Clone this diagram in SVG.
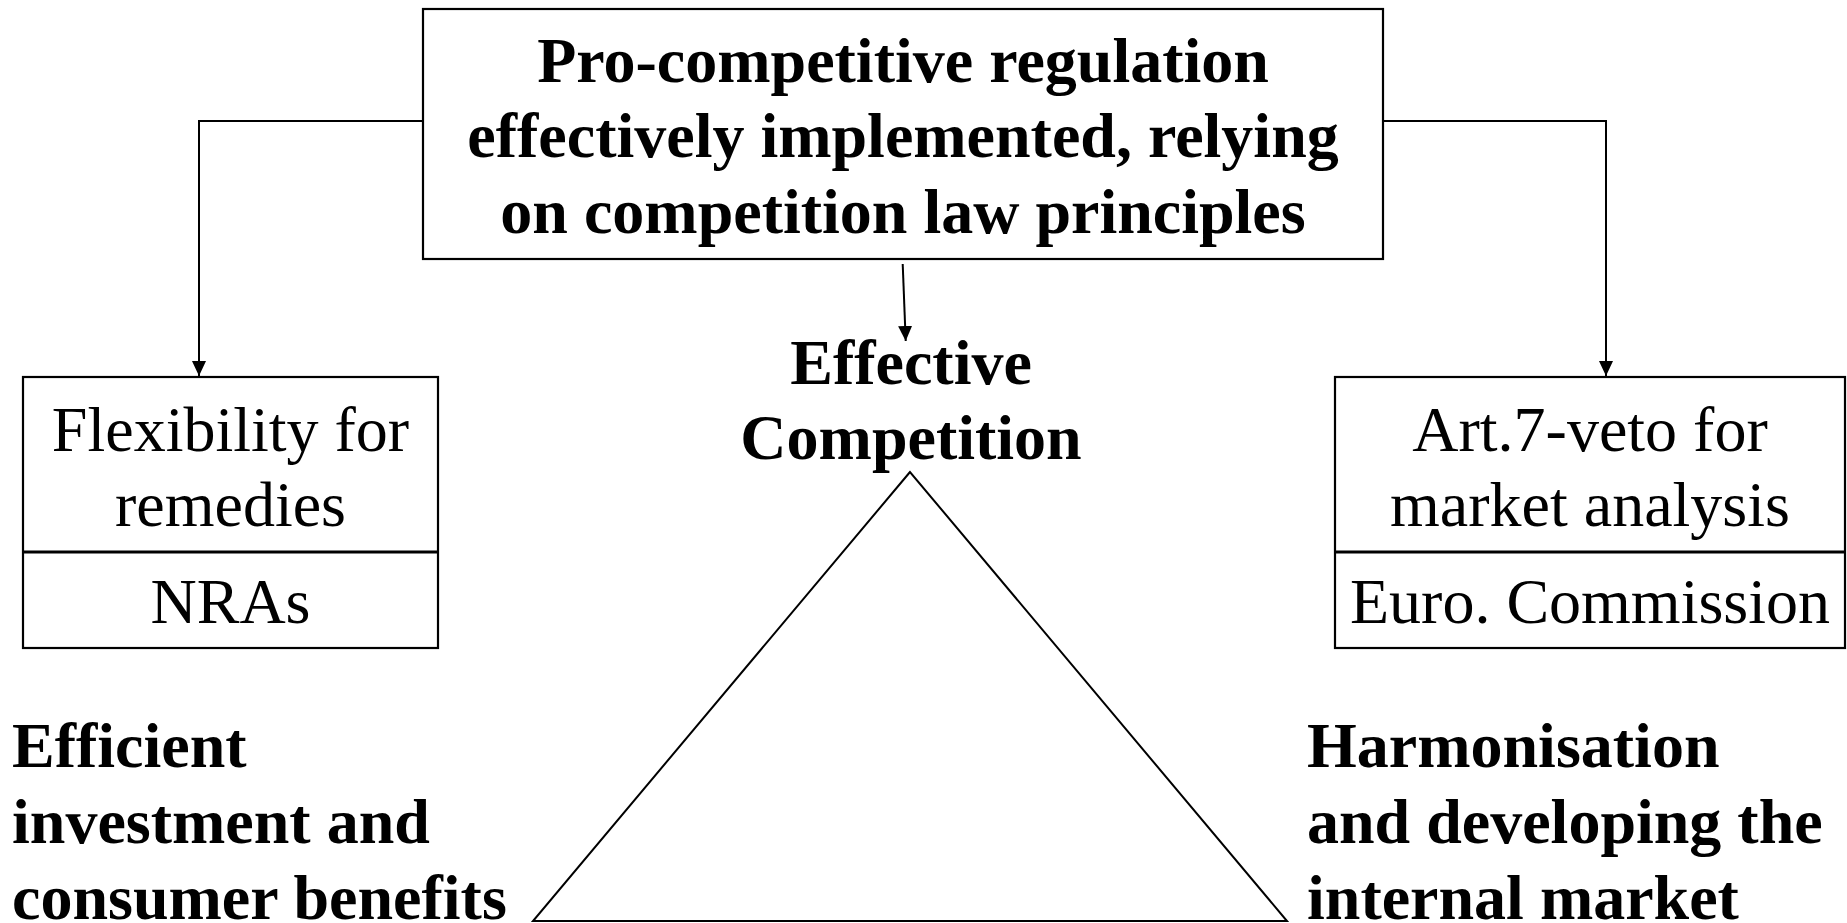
<svg xmlns="http://www.w3.org/2000/svg" width="1847" height="923" viewBox="0 0 1847 923">
<style>
.box{fill:#fff;stroke:#000;stroke-width:2.2}
.div{stroke:#000;stroke-width:3}
.conn{fill:none;stroke:#000;stroke-width:2}
.b{font-family:"Liberation Serif","Times New Roman",serif;font-weight:bold;font-size:64px;fill:#000}
.r{font-family:"Liberation Serif","Times New Roman",serif;font-size:64px;fill:#000}
.c{text-anchor:middle}
</style>
<defs>
<marker id="arr" markerUnits="userSpaceOnUse" markerWidth="16" markerHeight="14" refX="15" refY="7" orient="auto" viewBox="0 0 16 14">
<path d="M0,0 L15,7 L0,14 Z" fill="#000"/>
</marker>
</defs>
<rect width="1847" height="923" fill="#fff"/>
<g id="connectors">
<polyline class="conn" points="423,121 199,121 199,376" marker-end="url(#arr)"/>
<polyline class="conn" points="1383,121 1606,121 1606,376" marker-end="url(#arr)"/>
<line class="conn" x1="902.7" y1="264" x2="905.7" y2="341" stroke-width="1.5" marker-end="url(#arr)"/>
</g>
<g id="top">
<rect class="box" x="423" y="9" width="960" height="250"/>
<text class="b c" x="903" y="82">Pro-competitive regulation</text>
<text class="b c" x="903" y="157">effectively implemented, relying</text>
<text class="b c" x="903" y="233">on competition law principles</text>
</g>
<g id="effective">
<text class="b c" x="911" y="384">Effective</text>
<text class="b c" x="911" y="459">Competition</text>
<polygon points="910,472 533,921 1287,921" fill="none" stroke="#000" stroke-width="2"/>
</g>
<g id="left">
<rect class="box" x="23" y="377" width="415" height="271"/>
<line class="div" x1="23" y1="552" x2="438" y2="552"/>
<text class="r c" x="230.5" y="451">Flexibility for</text>
<text class="r c" x="230.5" y="526">remedies</text>
<text class="r c" x="230.5" y="623">NRAs</text>
</g>
<g id="right">
<rect class="box" x="1335" y="377" width="510" height="271"/>
<line class="div" x1="1335" y1="552" x2="1845" y2="552"/>
<text class="r c" x="1590" y="451">Art.7-veto for</text>
<text class="r c" x="1590" y="526">market analysis</text>
<text class="r c" x="1590" y="623">Euro. Commission</text>
</g>
<g id="bottom-left">
<text class="b" x="12" y="767">Efficient</text>
<text class="b" x="12" y="843">investment and</text>
<text class="b" x="12" y="919">consumer benefits</text>
</g>
<g id="bottom-right">
<text class="b" x="1307" y="767">Harmonisation</text>
<text class="b" x="1307" y="843">and developing the</text>
<text class="b" x="1307" y="919">internal market</text>
</g>
</svg>
